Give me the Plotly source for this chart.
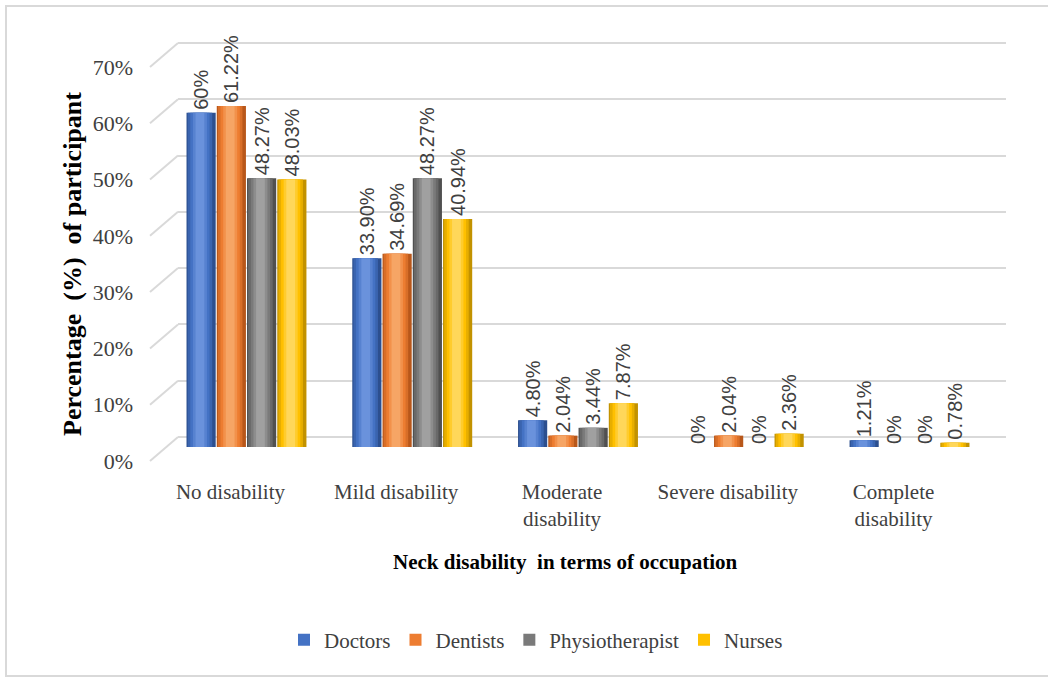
import plotly.graph_objects as go

# ---- data -------------------------------------------------------------
categories = ["No disability", "Mild disability", "Moderate<br>disability",
              "Severe disability", "Complete<br>disability"]
series_names = ["Doctors", "Dentists", "Physiotherapist", "Nurses"]
doctors = [60, 33.90, 4.80, 0, 1.21]
dentists = [61.22, 34.69, 2.04, 2.04, 0]
physiotherapist = [48.27, 48.27, 3.44, 0, 0]
nurses = [48.03, 40.94, 7.87, 2.36, 0.78]
tick_values = [0, 10, 20, 30, 40, 50, 60, 70]
tick_labels = ["0%", "10%", "20%", "30%", "40%", "50%", "60%", "70%"]

series_values = [doctors, dentists, physiotherapist, nurses]

# cylinder shading: edge, body, highlight
palettes = [
    ("#2c4f8f", "#4472C4", "#6a92dc"),
    ("#b8571a", "#ED7D31", "#f6a565"),
    ("#505050", "#7a7a7a", "#a0a0a0"),
    ("#c29200", "#FFC000", "#ffd75a"),
]

W, H = 1048, 677
def px(x):
    return x / W
def py(y):
    return 1 - y / H

# bar scale: value 0 at y=447px, 5.57 px per percent
BAR_ZERO, BAR_SCALE = 447, 5.57
# back-wall grid scale: value 0 at y=437px, 5.63 px per percent
GRID_ZERO, GRID_SCALE = 437, 5.63


def fmt(v):
    return f"{v:.0f}%" if float(v).is_integer() else f"{v:.2f}%"


def mix(c1, c2, t):
    a = [int(c1[i:i + 2], 16) for i in (1, 3, 5)]
    b = [int(c2[i:i + 2], 16) for i in (1, 3, 5)]
    return "#" + "".join(f"{round(a[k] + (b[k] - a[k]) * t):02x}" for k in range(3))


fig = go.Figure()

# empty trace so the back-wall grid subplot is drawn
fig.add_trace(go.Scatter(x=[0], y=[None], xaxis="x", yaxis="y",
                         showlegend=False, hoverinfo="skip"))

slot = 0.1825
bar_w = 0.176
for i, (name, vals, (edge, body, hi)) in enumerate(zip(series_names, series_values, palettes)):
    base_off = -2 * slot + i * slot + (slot - bar_w) / 2
    # outer (edge) layer carries the value labels
    fig.add_trace(go.Bar(
        x=categories, y=vals, xaxis="x2", yaxis="y2",
        offset=base_off, width=bar_w,
        marker=dict(color=edge, line=dict(width=0)),
        text=[fmt(v) for v in vals], textposition="outside", textangle=-90,
        constraintext="none", cliponaxis=False,
        textfont=dict(family="Liberation Sans", size=20, color="#404040"),
        showlegend=False, hoverinfo="skip", legendgroup=name,
    ))
    # inner layers give a rounded, cylinder-like shading
    fracs = [0.84, 0.66, 0.48, 0.30]
    for k, f in enumerate(fracs):
        w = bar_w * f
        centre = base_off + bar_w * 0.46
        colour = body if k < 2 else mix(body, hi, (k - 1) / 2)
        if k == 0:
            colour = mix(edge, body, 0.6)
        fig.add_trace(go.Bar(
            x=categories, y=vals, xaxis="x2", yaxis="y2",
            offset=centre - w / 2, width=w,
            marker=dict(color=colour, line=dict(width=0)),
            name=name, legendgroup=name,
            showlegend=(k == 1), hoverinfo="skip",
        ))

# slanted side-wall lines joining the front tick positions to the back wall
shapes = []
for v in tick_values:
    shapes.append(dict(type="line", xref="paper", yref="y",
                       x0=px(150), x1=px(178),
                       ysizemode="pixel", yanchor=v, y0=-24, y1=0,
                       line=dict(color="#d9d9d9", width=2), layer="below"))
# outer frame
shapes.append(dict(type="rect", xref="paper", yref="paper",
                   x0=px(6), x1=1.02, y0=py(676), y1=py(6),
                   line=dict(color="#d9d9d9", width=2), layer="below"))

fig.update_layout(
    width=W, height=H,
    margin=dict(l=0, r=0, t=0, b=0),
    paper_bgcolor="white",
    plot_bgcolor="rgba(0,0,0,0)",
    barmode="overlay",
    showlegend=True,
    shapes=shapes,
    xaxis=dict(domain=[px(178), px(1006)], visible=False, range=[0, 1],
               fixedrange=True),
    yaxis=dict(domain=[0, 1], anchor="x",
               range=[-(H - GRID_ZERO) / GRID_SCALE, GRID_ZERO / GRID_SCALE],
               tickmode="array", tickvals=tick_values, ticktext=tick_labels,
               showgrid=True, gridcolor="#d9d9d9", gridwidth=2,
               zeroline=False, showline=False, ticks="",
               ticklabelstandoff=44, ticklabelshift=24,
               tickfont=dict(family="Liberation Serif", size=22, color="#404040")),
    xaxis2=dict(domain=[px(163.6), px(992.4)], anchor="y2",
                type="category", showgrid=False, showline=False, ticks="",
                zeroline=False, ticklabelstandoff=30, ticklabelshift=-16,
                tickfont=dict(family="Liberation Serif", size=21, color="#404040")),
    yaxis2=dict(domain=[py(BAR_ZERO), 1], anchor="x2",
                range=[0, BAR_ZERO / BAR_SCALE], visible=False),
    legend=dict(orientation="h", x=px(536), xanchor="center",
                y=py(640), yanchor="middle", itemwidth=30,
                font=dict(family="Liberation Serif", size=21, color="#404040"),
                bgcolor="rgba(0,0,0,0)"),
    annotations=[
        dict(text="<b>Percentage  (%)  of participant</b>", textangle=-90,
             xref="paper", yref="paper", x=px(72), y=py(264),
             xanchor="center", yanchor="middle", showarrow=False,
             font=dict(family="Liberation Serif", size=26, color="#000000")),
        dict(text="<b>Neck disability  in terms of occupation</b>",
             xref="paper", yref="paper", x=px(565), y=py(562),
             xanchor="center", yanchor="middle", showarrow=False,
             font=dict(family="Liberation Serif", size=21, color="#000000")),
    ],
)

fig.write_html("out.html")
